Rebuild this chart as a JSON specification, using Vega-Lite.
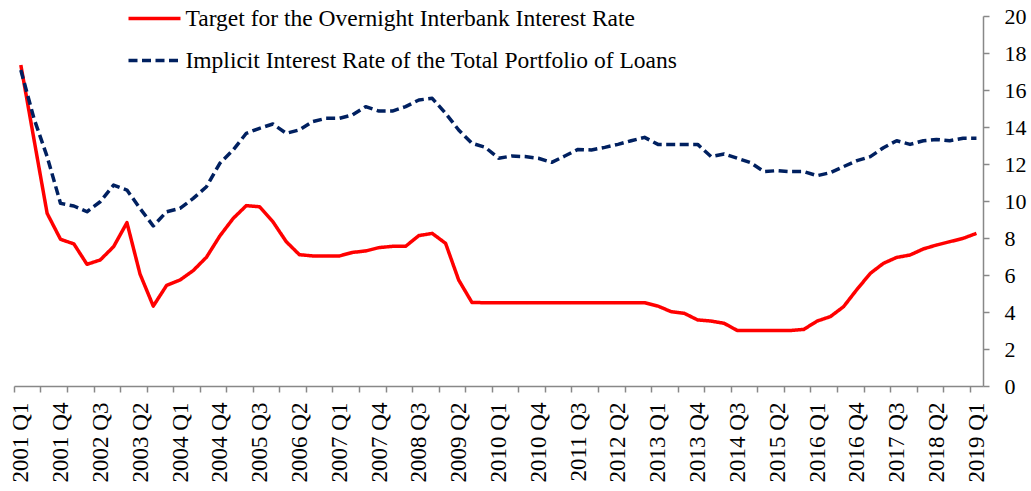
{
  "$schema": "https://vega.github.io/schema/vega-lite/v6.json",
  "width": 969,
  "height": 370,
  "autosize": {"type": "none"},
  "padding": {"left": 14, "top": 16, "right": 48, "bottom": 105},
  "background": "white",
  "config": {
    "view": {"stroke": null},
    "font": "Liberation Serif",
    "axis": {"labelFont": "Liberation Serif", "labelColor": "black", "domainColor": "#888888", "tickColor": "#888888", "grid": false, "title": null, "domainWidth": 1.5, "tickWidth": 1.5}
  },
  "data": {
    "values": [
      {"date": "2001-01-01", "Target for the Overnight Interbank Interest Rate": 17.35, "Implicit Interest Rate of the Total Portfolio of Loans": 17.08},
      {"date": "2001-04-01", "Target for the Overnight Interbank Interest Rate": 13.35, "Implicit Interest Rate of the Total Portfolio of Loans": 14.47},
      {"date": "2001-07-01", "Target for the Overnight Interbank Interest Rate": 9.33, "Implicit Interest Rate of the Total Portfolio of Loans": 12.4},
      {"date": "2001-10-01", "Target for the Overnight Interbank Interest Rate": 7.93, "Implicit Interest Rate of the Total Portfolio of Loans": 9.87},
      {"date": "2002-01-01", "Target for the Overnight Interbank Interest Rate": 7.68, "Implicit Interest Rate of the Total Portfolio of Loans": 9.73},
      {"date": "2002-04-01", "Target for the Overnight Interbank Interest Rate": 6.58, "Implicit Interest Rate of the Total Portfolio of Loans": 9.42},
      {"date": "2002-07-01", "Target for the Overnight Interbank Interest Rate": 6.81, "Implicit Interest Rate of the Total Portfolio of Loans": 9.96},
      {"date": "2002-10-01", "Target for the Overnight Interbank Interest Rate": 7.53, "Implicit Interest Rate of the Total Portfolio of Loans": 10.86},
      {"date": "2003-01-01", "Target for the Overnight Interbank Interest Rate": 8.83, "Implicit Interest Rate of the Total Portfolio of Loans": 10.59},
      {"date": "2003-04-01", "Target for the Overnight Interbank Interest Rate": 6.05, "Implicit Interest Rate of the Total Portfolio of Loans": 9.6},
      {"date": "2003-07-01", "Target for the Overnight Interbank Interest Rate": 4.32, "Implicit Interest Rate of the Total Portfolio of Loans": 8.65},
      {"date": "2003-10-01", "Target for the Overnight Interbank Interest Rate": 5.44, "Implicit Interest Rate of the Total Portfolio of Loans": 9.42},
      {"date": "2004-01-01", "Target for the Overnight Interbank Interest Rate": 5.73, "Implicit Interest Rate of the Total Portfolio of Loans": 9.6},
      {"date": "2004-04-01", "Target for the Overnight Interbank Interest Rate": 6.24, "Implicit Interest Rate of the Total Portfolio of Loans": 10.14},
      {"date": "2004-07-01", "Target for the Overnight Interbank Interest Rate": 6.96, "Implicit Interest Rate of the Total Portfolio of Loans": 10.77},
      {"date": "2004-10-01", "Target for the Overnight Interbank Interest Rate": 8.11, "Implicit Interest Rate of the Total Portfolio of Loans": 12.04},
      {"date": "2005-01-01", "Target for the Overnight Interbank Interest Rate": 9.06, "Implicit Interest Rate of the Total Portfolio of Loans": 12.76},
      {"date": "2005-04-01", "Target for the Overnight Interbank Interest Rate": 9.75, "Implicit Interest Rate of the Total Portfolio of Loans": 13.66},
      {"date": "2005-07-01", "Target for the Overnight Interbank Interest Rate": 9.69, "Implicit Interest Rate of the Total Portfolio of Loans": 13.93},
      {"date": "2005-10-01", "Target for the Overnight Interbank Interest Rate": 8.88, "Implicit Interest Rate of the Total Portfolio of Loans": 14.16},
      {"date": "2006-01-01", "Target for the Overnight Interbank Interest Rate": 7.8, "Implicit Interest Rate of the Total Portfolio of Loans": 13.66},
      {"date": "2006-04-01", "Target for the Overnight Interbank Interest Rate": 7.1, "Implicit Interest Rate of the Total Portfolio of Loans": 13.84},
      {"date": "2006-07-01", "Target for the Overnight Interbank Interest Rate": 7.03, "Implicit Interest Rate of the Total Portfolio of Loans": 14.29},
      {"date": "2006-10-01", "Target for the Overnight Interbank Interest Rate": 7.03, "Implicit Interest Rate of the Total Portfolio of Loans": 14.47},
      {"date": "2007-01-01", "Target for the Overnight Interbank Interest Rate": 7.03, "Implicit Interest Rate of the Total Portfolio of Loans": 14.47},
      {"date": "2007-04-01", "Target for the Overnight Interbank Interest Rate": 7.22, "Implicit Interest Rate of the Total Portfolio of Loans": 14.65},
      {"date": "2007-07-01", "Target for the Overnight Interbank Interest Rate": 7.3, "Implicit Interest Rate of the Total Portfolio of Loans": 15.1},
      {"date": "2007-10-01", "Target for the Overnight Interbank Interest Rate": 7.48, "Implicit Interest Rate of the Total Portfolio of Loans": 14.86},
      {"date": "2008-01-01", "Target for the Overnight Interbank Interest Rate": 7.55, "Implicit Interest Rate of the Total Portfolio of Loans": 14.86},
      {"date": "2008-04-01", "Target for the Overnight Interbank Interest Rate": 7.55, "Implicit Interest Rate of the Total Portfolio of Loans": 15.1},
      {"date": "2008-07-01", "Target for the Overnight Interbank Interest Rate": 8.13, "Implicit Interest Rate of the Total Portfolio of Loans": 15.46},
      {"date": "2008-10-01", "Target for the Overnight Interbank Interest Rate": 8.25, "Implicit Interest Rate of the Total Portfolio of Loans": 15.55},
      {"date": "2009-01-01", "Target for the Overnight Interbank Interest Rate": 7.71, "Implicit Interest Rate of the Total Portfolio of Loans": 14.74},
      {"date": "2009-04-01", "Target for the Overnight Interbank Interest Rate": 5.73, "Implicit Interest Rate of the Total Portfolio of Loans": 13.84},
      {"date": "2009-07-01", "Target for the Overnight Interbank Interest Rate": 4.52, "Implicit Interest Rate of the Total Portfolio of Loans": 13.12},
      {"date": "2009-10-01", "Target for the Overnight Interbank Interest Rate": 4.5, "Implicit Interest Rate of the Total Portfolio of Loans": 12.9},
      {"date": "2010-01-01", "Target for the Overnight Interbank Interest Rate": 4.5, "Implicit Interest Rate of the Total Portfolio of Loans": 12.31},
      {"date": "2010-04-01", "Target for the Overnight Interbank Interest Rate": 4.5, "Implicit Interest Rate of the Total Portfolio of Loans": 12.43},
      {"date": "2010-07-01", "Target for the Overnight Interbank Interest Rate": 4.5, "Implicit Interest Rate of the Total Portfolio of Loans": 12.4},
      {"date": "2010-10-01", "Target for the Overnight Interbank Interest Rate": 4.5, "Implicit Interest Rate of the Total Portfolio of Loans": 12.31},
      {"date": "2011-01-01", "Target for the Overnight Interbank Interest Rate": 4.5, "Implicit Interest Rate of the Total Portfolio of Loans": 12.09},
      {"date": "2011-04-01", "Target for the Overnight Interbank Interest Rate": 4.5, "Implicit Interest Rate of the Total Portfolio of Loans": 12.43},
      {"date": "2011-07-01", "Target for the Overnight Interbank Interest Rate": 4.5, "Implicit Interest Rate of the Total Portfolio of Loans": 12.79},
      {"date": "2011-10-01", "Target for the Overnight Interbank Interest Rate": 4.5, "Implicit Interest Rate of the Total Portfolio of Loans": 12.76},
      {"date": "2012-01-01", "Target for the Overnight Interbank Interest Rate": 4.5, "Implicit Interest Rate of the Total Portfolio of Loans": 12.9},
      {"date": "2012-04-01", "Target for the Overnight Interbank Interest Rate": 4.5, "Implicit Interest Rate of the Total Portfolio of Loans": 13.06},
      {"date": "2012-07-01", "Target for the Overnight Interbank Interest Rate": 4.5, "Implicit Interest Rate of the Total Portfolio of Loans": 13.26},
      {"date": "2012-10-01", "Target for the Overnight Interbank Interest Rate": 4.5, "Implicit Interest Rate of the Total Portfolio of Loans": 13.44},
      {"date": "2013-01-01", "Target for the Overnight Interbank Interest Rate": 4.32, "Implicit Interest Rate of the Total Portfolio of Loans": 13.06},
      {"date": "2013-04-01", "Target for the Overnight Interbank Interest Rate": 4.02, "Implicit Interest Rate of the Total Portfolio of Loans": 13.06},
      {"date": "2013-07-01", "Target for the Overnight Interbank Interest Rate": 3.93, "Implicit Interest Rate of the Total Portfolio of Loans": 13.06},
      {"date": "2013-10-01", "Target for the Overnight Interbank Interest Rate": 3.57, "Implicit Interest Rate of the Total Portfolio of Loans": 13.06},
      {"date": "2014-01-01", "Target for the Overnight Interbank Interest Rate": 3.51, "Implicit Interest Rate of the Total Portfolio of Loans": 12.4},
      {"date": "2014-04-01", "Target for the Overnight Interbank Interest Rate": 3.39, "Implicit Interest Rate of the Total Portfolio of Loans": 12.54},
      {"date": "2014-07-01", "Target for the Overnight Interbank Interest Rate": 3.0, "Implicit Interest Rate of the Total Portfolio of Loans": 12.31},
      {"date": "2014-10-01", "Target for the Overnight Interbank Interest Rate": 3.0, "Implicit Interest Rate of the Total Portfolio of Loans": 12.07},
      {"date": "2015-01-01", "Target for the Overnight Interbank Interest Rate": 3.0, "Implicit Interest Rate of the Total Portfolio of Loans": 11.59},
      {"date": "2015-04-01", "Target for the Overnight Interbank Interest Rate": 3.0, "Implicit Interest Rate of the Total Portfolio of Loans": 11.64},
      {"date": "2015-07-01", "Target for the Overnight Interbank Interest Rate": 3.0, "Implicit Interest Rate of the Total Portfolio of Loans": 11.59},
      {"date": "2015-10-01", "Target for the Overnight Interbank Interest Rate": 3.06, "Implicit Interest Rate of the Total Portfolio of Loans": 11.59},
      {"date": "2016-01-01", "Target for the Overnight Interbank Interest Rate": 3.51, "Implicit Interest Rate of the Total Portfolio of Loans": 11.37},
      {"date": "2016-04-01", "Target for the Overnight Interbank Interest Rate": 3.75, "Implicit Interest Rate of the Total Portfolio of Loans": 11.53},
      {"date": "2016-07-01", "Target for the Overnight Interbank Interest Rate": 4.29, "Implicit Interest Rate of the Total Portfolio of Loans": 11.86},
      {"date": "2016-10-01", "Target for the Overnight Interbank Interest Rate": 5.22, "Implicit Interest Rate of the Total Portfolio of Loans": 12.18},
      {"date": "2017-01-01", "Target for the Overnight Interbank Interest Rate": 6.09, "Implicit Interest Rate of the Total Portfolio of Loans": 12.4},
      {"date": "2017-04-01", "Target for the Overnight Interbank Interest Rate": 6.63, "Implicit Interest Rate of the Total Portfolio of Loans": 12.88},
      {"date": "2017-07-01", "Target for the Overnight Interbank Interest Rate": 6.95, "Implicit Interest Rate of the Total Portfolio of Loans": 13.26},
      {"date": "2017-10-01", "Target for the Overnight Interbank Interest Rate": 7.08, "Implicit Interest Rate of the Total Portfolio of Loans": 13.06},
      {"date": "2018-01-01", "Target for the Overnight Interbank Interest Rate": 7.41, "Implicit Interest Rate of the Total Portfolio of Loans": 13.26},
      {"date": "2018-04-01", "Target for the Overnight Interbank Interest Rate": 7.62, "Implicit Interest Rate of the Total Portfolio of Loans": 13.33},
      {"date": "2018-07-01", "Target for the Overnight Interbank Interest Rate": 7.8, "Implicit Interest Rate of the Total Portfolio of Loans": 13.26},
      {"date": "2018-10-01", "Target for the Overnight Interbank Interest Rate": 7.98, "Implicit Interest Rate of the Total Portfolio of Loans": 13.39},
      {"date": "2019-01-01", "Target for the Overnight Interbank Interest Rate": 8.25, "Implicit Interest Rate of the Total Portfolio of Loans": 13.39}
    ]
  },
  "transform": [
    {"fold": ["Target for the Overnight Interbank Interest Rate", "Implicit Interest Rate of the Total Portfolio of Loans"], "as": ["series", "rate"]}
  ],
  "layer": [
    {
      "mark": {"type": "line", "strokeWidth": 3.5, "strokeCap": "butt", "strokeJoin": "round"},
      "encoding": {
        "x": {
          "field": "date", "type": "temporal",
          "scale": {"type": "utc", "domain": [{"year": 2000, "month": 11, "date": 15, "utc": true}, {"year": 2019, "month": 2, "date": 15, "utc": true}]},
          "axis": {
            "orient": "bottom", "domain": true, "ticks": true, "tickSize": 6, "labels": false,
            "values": [
              {"year": 2000, "month": 11, "date": 15, "utc": true},
              {"year": 2001, "month": 5, "date": 16, "utc": true}, {"year": 2001, "month": 11, "date": 15, "utc": true},
              {"year": 2002, "month": 5, "date": 16, "utc": true}, {"year": 2002, "month": 11, "date": 15, "utc": true},
              {"year": 2003, "month": 5, "date": 16, "utc": true}, {"year": 2003, "month": 11, "date": 15, "utc": true},
              {"year": 2004, "month": 5, "date": 16, "utc": true}, {"year": 2004, "month": 11, "date": 15, "utc": true},
              {"year": 2005, "month": 5, "date": 16, "utc": true}, {"year": 2005, "month": 11, "date": 15, "utc": true},
              {"year": 2006, "month": 5, "date": 16, "utc": true}, {"year": 2006, "month": 11, "date": 15, "utc": true},
              {"year": 2007, "month": 5, "date": 16, "utc": true}, {"year": 2007, "month": 11, "date": 15, "utc": true},
              {"year": 2008, "month": 5, "date": 16, "utc": true}, {"year": 2008, "month": 11, "date": 15, "utc": true},
              {"year": 2009, "month": 5, "date": 16, "utc": true}, {"year": 2009, "month": 11, "date": 15, "utc": true},
              {"year": 2010, "month": 5, "date": 16, "utc": true}, {"year": 2010, "month": 11, "date": 15, "utc": true},
              {"year": 2011, "month": 5, "date": 16, "utc": true}, {"year": 2011, "month": 11, "date": 15, "utc": true},
              {"year": 2012, "month": 5, "date": 16, "utc": true}, {"year": 2012, "month": 11, "date": 15, "utc": true},
              {"year": 2013, "month": 5, "date": 16, "utc": true}, {"year": 2013, "month": 11, "date": 15, "utc": true},
              {"year": 2014, "month": 5, "date": 16, "utc": true}, {"year": 2014, "month": 11, "date": 15, "utc": true},
              {"year": 2015, "month": 5, "date": 16, "utc": true}, {"year": 2015, "month": 11, "date": 15, "utc": true},
              {"year": 2016, "month": 5, "date": 16, "utc": true}, {"year": 2016, "month": 11, "date": 15, "utc": true},
              {"year": 2017, "month": 5, "date": 16, "utc": true}, {"year": 2017, "month": 11, "date": 15, "utc": true},
              {"year": 2018, "month": 5, "date": 16, "utc": true}, {"year": 2018, "month": 11, "date": 15, "utc": true}
            ]
          }
        },
        "y": {
          "field": "rate", "type": "quantitative",
          "scale": {"domain": [0, 20], "nice": false, "zero": true},
          "axis": {"orient": "right", "values": [0, 2, 4, 6, 8, 10, 12, 14, 16, 18, 20], "tickSize": 6, "labelPadding": 15, "labelFontSize": 22, "labelAlign": "left"}
        },
        "color": {
          "field": "series", "type": "nominal",
          "scale": {"domain": ["Target for the Overnight Interbank Interest Rate", "Implicit Interest Rate of the Total Portfolio of Loans"], "range": ["#ff0000", "#002060"]},
          "legend": {
            "title": null, "orient": "none", "legendX": 125.5, "legendY": -12.5, "direction": "vertical",
            "symbolType": "M-2,0H2", "symbolSize": 676, "symbolStrokeWidth": 3.5,
            "labelFont": "Liberation Serif", "labelFontSize": 23.5, "labelColor": "black", "labelOffset": 16, "labelLimit": 0,
            "rowPadding": 15, "padding": 0
          }
        },
        "strokeDash": {
          "field": "series", "type": "nominal",
          "scale": {"domain": ["Target for the Overnight Interbank Interest Rate", "Implicit Interest Rate of the Total Portfolio of Loans"], "range": [[1, 0], [9, 4.5]]},
          "legend": {
            "title": null, "orient": "none", "legendX": 125.5, "legendY": -12.5, "direction": "vertical",
            "symbolType": "M-2,0H2", "symbolSize": 676, "symbolStrokeWidth": 3.5,
            "labelFont": "Liberation Serif", "labelFontSize": 23.5, "labelColor": "black", "labelOffset": 16, "labelLimit": 0,
            "rowPadding": 15, "padding": 0
          }
        }
      }
    },
    {
      "mark": {"type": "line", "opacity": 0},
      "encoding": {
        "x": {
          "field": "date", "type": "temporal",
          "axis": {
            "orient": "bottom", "domain": false, "ticks": false, "tickSize": 0, "labelAngle": 270, "labelAlign": "right", "labelBaseline": "middle",
            "labelPadding": 16, "labelFontSize": 23, "labelOverlap": false, "labelBound": false, "labelFlush": false,
            "labelExpr": "utcFormat(datum.value, '%Y') + ' Q' + (floor(utcmonth(datum.value) / 3) + 1)",
            "values": [
              {"year": 2001, "month": 1, "date": 1, "utc": true}, {"year": 2001, "month": 10, "date": 1, "utc": true},
              {"year": 2002, "month": 7, "date": 1, "utc": true}, {"year": 2003, "month": 4, "date": 1, "utc": true},
              {"year": 2004, "month": 1, "date": 1, "utc": true}, {"year": 2004, "month": 10, "date": 1, "utc": true},
              {"year": 2005, "month": 7, "date": 1, "utc": true}, {"year": 2006, "month": 4, "date": 1, "utc": true},
              {"year": 2007, "month": 1, "date": 1, "utc": true}, {"year": 2007, "month": 10, "date": 1, "utc": true},
              {"year": 2008, "month": 7, "date": 1, "utc": true}, {"year": 2009, "month": 4, "date": 1, "utc": true},
              {"year": 2010, "month": 1, "date": 1, "utc": true}, {"year": 2010, "month": 10, "date": 1, "utc": true},
              {"year": 2011, "month": 7, "date": 1, "utc": true}, {"year": 2012, "month": 4, "date": 1, "utc": true},
              {"year": 2013, "month": 1, "date": 1, "utc": true}, {"year": 2013, "month": 10, "date": 1, "utc": true},
              {"year": 2014, "month": 7, "date": 1, "utc": true}, {"year": 2015, "month": 4, "date": 1, "utc": true},
              {"year": 2016, "month": 1, "date": 1, "utc": true}, {"year": 2016, "month": 10, "date": 1, "utc": true},
              {"year": 2017, "month": 7, "date": 1, "utc": true}, {"year": 2018, "month": 4, "date": 1, "utc": true},
              {"year": 2019, "month": 1, "date": 1, "utc": true}
            ]
          }
        },
        "y": {
          "field": "rate", "type": "quantitative",
          "axis": {"orient": "right", "values": [0, 2, 4, 6, 8, 10, 12, 14, 16, 18, 20], "tickSize": 6, "labelPadding": 15, "labelFontSize": 22, "labelAlign": "left"}
        },
        "detail": {"field": "series", "type": "nominal"}
      }
    }
  ],
  "resolve": {"axis": {"x": "independent"}}
}
